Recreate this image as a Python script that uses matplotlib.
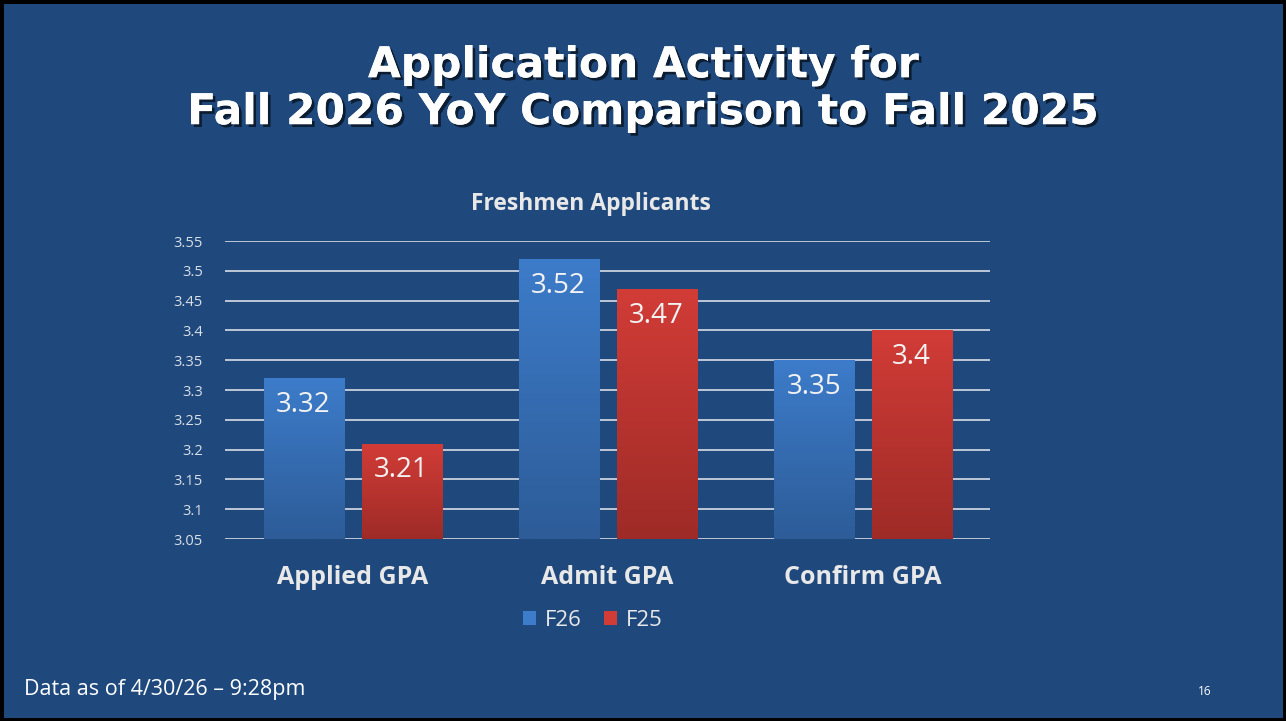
import numpy as np
import matplotlib.pyplot as plt
import matplotlib.patheffects as pe
from matplotlib.patches import Rectangle, Patch

# chart data
categories = ['Applied GPA', 'Admit GPA', 'Confirm GPA']
f26 = [3.32, 3.52, 3.35]
f25 = [3.21, 3.47, 3.40]
yticks = [3.05, 3.1, 3.15, 3.2, 3.25, 3.3, 3.35, 3.4, 3.45, 3.5, 3.55]
ytick_labels = ['3.05', '3.1', '3.15', '3.2', '3.25', '3.3', '3.35', '3.4', '3.45', '3.5', '3.55']

bg = '#1F497D'
blue_top, blue_bot = '#3D7CCA', '#2D5C98'
red_top, red_bot = '#D23C37', '#9E2B27'
txt = '#E8E8E8'

fig = plt.figure(figsize=(12.86, 7.21), dpi=100, facecolor=bg)

# slide border
fig.patches.append(Rectangle((0, 0), 1, 1, transform=fig.transFigure, fill=False,
                             edgecolor='black', linewidth=5, zorder=10))

# title with shadow
title = 'Application Activity for\nFall 2026 YoY Comparison to Fall 2025'
fig.text(0.5, 0.877, title, ha='center', va='center', fontsize=30.5, fontweight='bold',
         color='white', family='DejaVu Sans', linespacing=1.15,
         path_effects=[pe.withSimplePatchShadow(offset=(2, -2), shadow_rgbFace='black', alpha=0.6),
                       pe.Normal()])

ax = fig.add_axes([0.175, 0.2524, 0.595, 0.4133])
ax.set_facecolor(bg)
ax.set_xlim(-0.5, 2.5)
ax.set_ylim(3.05, 3.55)

x = np.arange(len(categories))
w = 0.314
off = 0.192


def grad_bar(xc, val, top, bot):
    bar = ax.bar(xc, val - 3.05, w, bottom=3.05, color='none', zorder=3)[0]
    c1 = np.array(plt.matplotlib.colors.to_rgb(top))
    c2 = np.array(plt.matplotlib.colors.to_rgb(bot))
    t = np.linspace(0, 1, 100)[:, None]
    img = (c1 * (1 - t) + c2 * t)[:, None, :]
    im = ax.imshow(img, extent=[xc - w / 2, xc + w / 2, 3.05, val], aspect='auto',
                   origin='upper', zorder=3)
    im.set_clip_path(bar)


for i in range(len(categories)):
    grad_bar(x[i] - off, f26[i], blue_top, blue_bot)
    grad_bar(x[i] + off, f25[i], red_top, red_bot)
    ax.text(x[i] - off, f26[i] - 0.045, f'{f26[i]:g}', ha='center', va='center',
            fontsize=20, color='#F2F2F2', family='Open Sans', zorder=4)
    ax.text(x[i] + off, f25[i] - 0.045, f'{f25[i]:g}', ha='center', va='center',
            fontsize=20, color='#F2F2F2', family='Open Sans', zorder=4)

ax.set_xlim(-0.5, 2.5)
ax.set_ylim(3.05, 3.55)
ax.set_yticks(yticks)
ax.set_yticklabels(ytick_labels, fontsize=10.5, color='#DADFE6', family='Open Sans')
ax.yaxis.grid(True, color='#C9D1DD', linewidth=1.3, zorder=1)
ax.set_axisbelow(True)
ax.tick_params(axis='y', length=0, pad=16)
ax.set_xticks(x)
ax.set_xticklabels(categories, fontsize=18, fontweight='bold', color=txt, family='Open Sans')
ax.tick_params(axis='x', length=0, pad=19)
for s in ax.spines.values():
    s.set_visible(False)

ax.set_title('Freshmen Applicants', fontsize=16.5, fontweight='bold', color=txt,
             family='Open Sans', pad=22, x=0.478)

handles = [Patch(facecolor=blue_top, label='F26'), Patch(facecolor=red_top, label='F25')]
fig.legend(handles=handles, loc='center', bbox_to_anchor=(0.461, 0.14), ncol=2, frameon=False,
           labelcolor=txt, handlelength=0.6, handleheight=0.6,
           handletextpad=0.4, columnspacing=1.0, prop={'family': 'Open Sans', 'size': 16})

fig.text(0.019, 0.043, 'Data as of 4/30/26 \u2013 9:28pm', fontsize=15.5, color='white',
         family='Open Sans', va='center')
fig.text(0.937, 0.041, '16', fontsize=8.5, color='white', family='Open Sans', va='center',
         ha='center')

fig.savefig('out.png', dpi=100, facecolor=bg)
